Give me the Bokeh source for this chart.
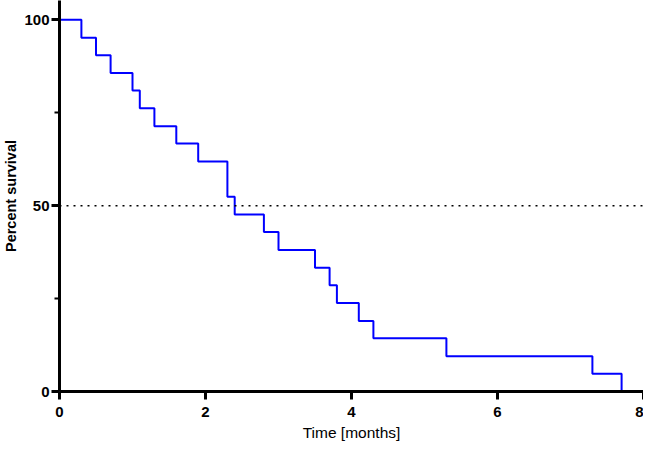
from bokeh.plotting import figure
from bokeh.models import FixedTicker, Range1d, Span
from bokeh.embed import file_html
from bokeh.resources import INLINE

# Kaplan-Meier step data (time in months, percent survival after each time)
times = [0.0, 0.3, 0.5, 0.7, 1.0, 1.1, 1.3, 1.6, 1.9, 2.3, 2.4, 2.8, 3.0,
         3.5, 3.7, 3.8, 4.1, 4.3, 5.3, 7.3, 7.7]
survival = [100.0, 95.2, 90.5, 85.7, 81.0, 76.2, 71.4, 66.7, 61.9, 52.4, 47.6,
            42.9, 38.1, 33.3, 28.6, 23.8, 19.0, 14.3, 9.5, 4.8, 0.0]
x_ticks = [0, 2, 4, 6, 8]
y_ticks = [0, 50, 100]
y_minor = [25, 75]
median_line = 50

p = figure(frame_width=584, frame_height=391, output_backend="svg",
           toolbar_location=None,
           x_range=Range1d(0, 8), y_range=Range1d(0, 105.2),
           min_border_left=0, min_border_right=0, min_border_top=0,
           min_border_bottom=0)
p.grid.visible = False
p.outline_line_color = None
p.background_fill_color = "white"

p.step(times, survival, mode="after", line_color="#0000FF", line_width=2)

p.add_layout(Span(location=median_line, dimension="width", line_color="black",
                  line_width=1.5, line_dash="2 5"))

for ax in (p.xaxis[0], p.yaxis[0]):
    ax.axis_line_width = 3
    ax.axis_line_color = "black"
    ax.major_tick_line_width = 3
    ax.minor_tick_line_width = 2
    ax.major_tick_in = 0
    ax.major_tick_out = 8
    ax.minor_tick_in = 0
    ax.minor_tick_out = 5
    ax.major_label_text_font = "Liberation Sans"
    ax.major_label_text_font_style = "bold"
    ax.major_label_text_font_size = "15px"
    ax.major_label_text_color = "black"
    ax.axis_label_text_font = "Liberation Sans"
    ax.axis_label_text_color = "black"

p.xaxis[0].ticker = FixedTicker(ticks=x_ticks, minor_ticks=[])
p.yaxis[0].ticker = FixedTicker(ticks=y_ticks, minor_ticks=y_minor)
p.xaxis[0].axis_label = "Time [months]"
p.xaxis[0].axis_label_text_font_style = "normal"
p.xaxis[0].axis_label_text_font_size = "15.5px"
p.xaxis[0].major_label_standoff = 7
p.xaxis[0].axis_label_standoff = 4
p.yaxis[0].axis_label = "Percent survival"
p.yaxis[0].axis_label_text_font_style = "bold"
p.yaxis[0].axis_label_text_font_size = "14.5px"
p.yaxis[0].major_label_standoff = 2
p.yaxis[0].axis_label_standoff = 2

open("out.html", "w").write(file_html(p, INLINE))
